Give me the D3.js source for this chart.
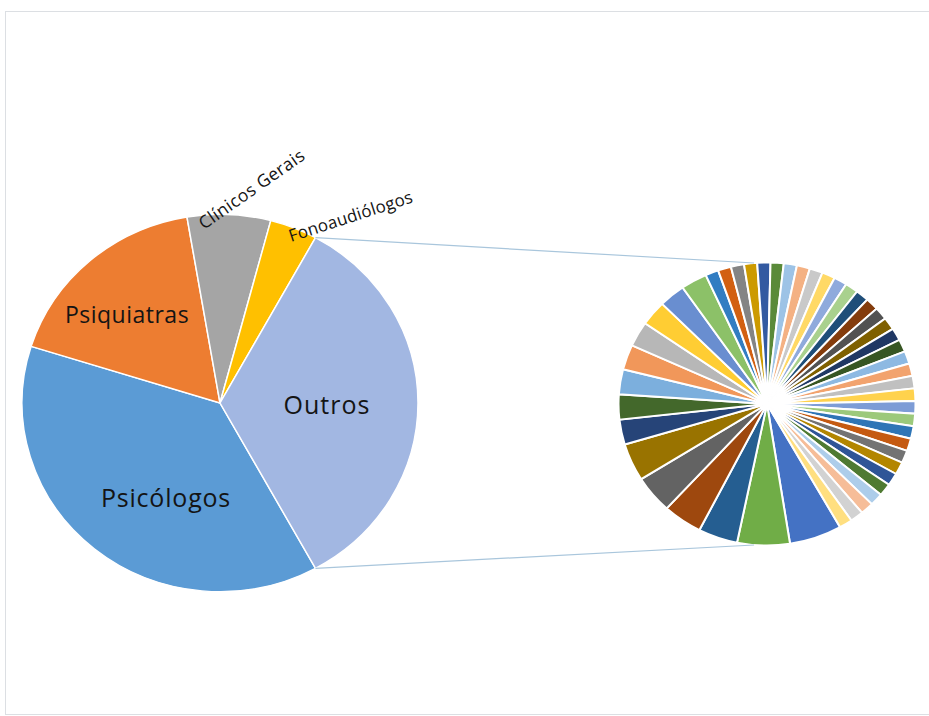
<!DOCTYPE html>
<html>
<head>
<meta charset="utf-8">
<script src="https://cdn.jsdelivr.net/npm/d3@7"></script>
<style>
  body { margin: 0; background: #fff; }
  text { font-family: "Open Sans", Lato, sans-serif; fill: #141414; }
</style>
</head>
<body>
<div class="chart"></div>
<script>
var width = 929
var height = 716

// main pie: named categories (Outros is the sum of the small pie)
var mainLabels = ['Psicólogos', 'Psiquiatras', 'Clínicos Gerais', 'Fonoaudiólogos']
var mainValues = [78, 36, 14, 8]
var mainColors = ['#5b9bd5', '#ed7d31', '#a5a5a5', '#ffc000']
var outrosColor = '#a2b7e2'

// small pie: the items grouped as "Outros"
var otherValues = [4, 4, 3, 3, 3, 3, 2, 2, 2, 2, 2, 2, 2, 2,
  1, 1, 1, 1, 1, 1, 1, 1, 1, 1, 1, 1, 1, 1, 1, 1, 1, 1,
  1, 1, 1, 1, 1, 1, 1, 1, 1, 1, 1, 1, 1, 1, 1, 1]
var otherColors = [
  '#4472c4', '#70ad47',
  '#255e91', '#9e480e', '#636363', '#997300', '#264478', '#43682b',
  '#7cafdd', '#f1975a', '#b7b7b7', '#ffcd33', '#698ed0', '#8cc168',
  '#327dc2', '#d26012', '#848484', '#cc9a00', '#335aa1', '#5a8a39',
  '#9dc3e6', '#f4b183', '#c9c9c9', '#ffd966', '#8faadc', '#a9d18e',
  '#1f4e79', '#843c0c', '#525252', '#7f6000', '#203864', '#375623',
  '#8db9e2', '#f2a36e', '#c0c0c0', '#ffd24d', '#7d9cd6', '#9cc97b',
  '#2e75b6', '#c55a11', '#737373', '#b38600', '#2f5597', '#4f7a32',
  '#adcdea', '#f6bd98', '#d2d2d2', '#ffdf80'
]

var outros = d3.sum(otherValues)
var mainData = mainValues.map(function(v, i) {
  return {label: mainLabels[i], value: v, color: mainColors[i]}
})
mainData.push({label: 'Outros', value: outros, color: outrosColor})

var squash = 0.953
var deg = Math.PI / 180

var svg = d3.select('.chart')
  .append('svg')
  .attr('width', width)
  .attr('height', height)

// chart frame
svg.append('rect')
  .attr('x', 5.5).attr('y', 11.5)
  .attr('width', width + 10).attr('height', 703)
  .attr('fill', 'none')
  .attr('stroke', '#dcdfe3')

// main pie, rotated so Outros is centred at 3 o'clock
var total = d3.sum(mainData, function(d) { return d.value })
var outrosAngle = 2 * Math.PI * outros / total
var mainStart = Math.PI / 2 + outrosAngle / 2

var c1 = {x: 220, y: 403, r: 198}
var c2 = {x: 767, y: 404, r: 148.5}

var mainPie = d3.pie().sort(null).value(function(d) { return d.value })
  .startAngle(mainStart).endAngle(mainStart + 2 * Math.PI)
var mainArcs = mainPie(mainData)
var arc1 = d3.arc().innerRadius(0).outerRadius(c1.r)

var g1 = svg.append('g')
  .attr('transform', 'translate(' + c1.x + ',' + c1.y + ') scale(1,' + squash + ')')

g1.selectAll('path')
  .data(mainArcs)
  .enter().append('path')
  .attr('d', arc1)
  .attr('fill', function(d) { return d.data.color })
  .attr('stroke', '#fff')
  .attr('stroke-width', 1.5)

// secondary pie
var otherStart = 150.5 * deg
var otherPie = d3.pie().sort(null)
  .startAngle(otherStart).endAngle(otherStart + 2 * Math.PI)
var arc2 = d3.arc().innerRadius(0).outerRadius(c2.r)

var g2 = svg.append('g')
  .attr('transform', 'translate(' + c2.x + ',' + c2.y + ') scale(1,' + squash + ')')

g2.selectAll('path')
  .data(otherPie(otherValues))
  .enter().append('path')
  .attr('d', arc2)
  .attr('fill', function(d, i) { return otherColors[i] })
  .attr('stroke', '#fff')
  .attr('stroke-width', 2)

// connector lines from the Outros slice edges to the small pie
function pt(c, a) {
  return [c.x + c.r * Math.sin(a), c.y - c.r * Math.cos(a) * squash]
}
var outrosArc = mainArcs[mainArcs.length - 1]
var links = [
  [pt(c1, outrosArc.startAngle), pt(c2, -5 * deg)],
  [pt(c1, outrosArc.endAngle), pt(c2, 185 * deg)]
]
svg.selectAll('line.link')
  .data(links)
  .enter().append('line')
  .attr('class', 'link')
  .attr('x1', function(d) { return d[0][0] })
  .attr('y1', function(d) { return d[0][1] })
  .attr('x2', function(d) { return d[1][0] })
  .attr('y2', function(d) { return d[1][1] })
  .attr('stroke', '#a9c6dc')
  .attr('stroke-width', 1.2)

// labels
var labels = [
  {text: 'Psicólogos', x: 166, y: 507, size: 25, ls: 0.8, rot: 0, anchor: 'middle'},
  {text: 'Psiquiatras', x: 127, y: 323, size: 23, ls: 0.5, rot: 0, anchor: 'middle'},
  {text: 'Outros', x: 327, y: 414, size: 25, ls: 1, rot: 0, anchor: 'middle'},
  {text: 'Clínicos Gerais', x: 204, y: 230, size: 17.5, ls: 0.4, rot: -35, anchor: 'start'},
  {text: 'Fonoaudiólogos', x: 291, y: 242, size: 17, ls: 0.2, rot: -18, anchor: 'start'}
]
svg.selectAll('text.lbl')
  .data(labels)
  .enter().append('text')
  .attr('class', 'lbl')
  .attr('text-anchor', function(d) { return d.anchor })
  .attr('font-size', function(d) { return d.size })
  .attr('letter-spacing', function(d) { return d.ls })
  .attr('transform', function(d) { return 'translate(' + d.x + ',' + d.y + ') rotate(' + d.rot + ')' })
  .text(function(d) { return d.text })
</script>
</body>
</html>
